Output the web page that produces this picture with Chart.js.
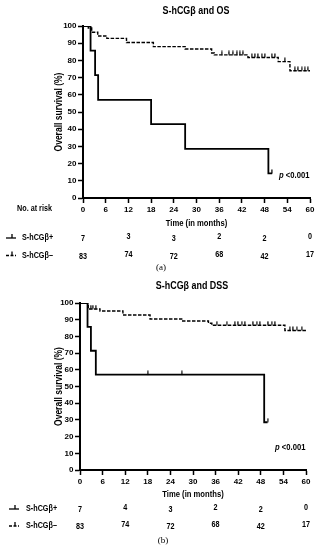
<!DOCTYPE html>
<html>
<head>
<meta charset="utf-8">
<script src="https://cdn.jsdelivr.net/npm/chart.js@4.4.1/dist/chart.umd.min.js"></script>
<style>
  body { margin: 0; background: #fff; width: 320px; height: 550px; overflow: hidden; }
  .panel { position: absolute; left: 0; width: 320px; height: 275px; }
</style>
</head>
<body>
<div class="panel" style="top:0"><canvas id="chartA" width="320" height="275"></canvas></div>
<div class="panel" style="top:275px"><canvas id="chartB" width="320" height="275"></canvas></div>
<script>
const xTickValues = [0, 6, 12, 18, 24, 30, 36, 42, 48, 54, 60];
const yTickValues = [0, 10, 20, 30, 40, 50, 60, 70, 80, 90, 100];
const groupLabels = ["S-hCGβ+", "S-hCGβ–"];
const riskMonths = [0, 12, 24, 36, 48, 60];

// (a) S-hCGβ and OS
const osPosMonths = [0, 2, 3.2, 4, 18, 27, 49, 50];
const osPosSurvival = [100, 85.7, 71.4, 57.1, 42.9, 28.6, 14.3, 14.3];
const osPosCensored = [50];
const osNegMonths = [0, 1.4, 2.3, 3.9, 6.3, 11.5, 18.6, 27, 34, 34.7, 43.6, 51.6, 54.7, 60];
const osNegSurvival = [100, 98.8, 96.4, 94.2, 92.8, 90.4, 88.0, 86.6, 84.3, 83.2, 81.7, 79.3, 74.0, 74.0];
const osNegCensored = [36.7, 38.7, 39.7, 40.8, 41.5, 42.4, 44.6, 45.5, 46.3, 47.2, 48.1, 49.9, 50.8, 53.4, 56, 56.9, 57.8, 58.6, 59.5];
const osPosAtRisk = [7, 3, 3, 2, 2, 0];
const osNegAtRisk = [83, 74, 72, 68, 42, 17];

// (b) S-hCGβ and DSS
const dssPosMonths = [0, 2, 2.9, 4.2, 48.9, 49.8];
const dssPosSurvival = [100, 85.7, 71.4, 57.1, 28.6, 28.6];
const dssPosCensored = [18, 27, 49.8];
const dssNegMonths = [0, 2.2, 5.3, 11.4, 18.6, 27, 34.1, 35, 54.4, 60];
const dssNegSurvival = [100, 96.4, 95.2, 92.8, 90.4, 89.2, 87.9, 86.7, 83.5, 83.5];
const dssNegCensored = [2.9, 3.5, 4.2, 36.3, 38.9, 41.1, 42, 42.9, 43.8, 46, 46.9, 47.8, 50, 50.9, 51.8, 55.7, 56.6, 57.5, 58.9];
const dssPosAtRisk = [7, 4, 3, 2, 2, 0];
const dssNegAtRisk = [83, 74, 72, 68, 42, 17];

const FONT = "'Liberation Sans', Arial, sans-serif";
const NARROW = 0.85; // squeeze to mimic the condensed bold face of the original

function stepValue(months, survival, t) {
  let v = survival[0];
  months.forEach((m, i) => { if (m <= t) v = survival[i]; });
  return v;
}

function curve(months, survival) {
  return months.map((m, i) => ({ x: m, y: survival[i] }));
}

function censorPoints(months, survival, censored) {
  return censored.map((t) => ({ x: t, y: stepValue(months, survival, t) }));
}

// narrow text: draws text squeezed horizontally around its anchor
function text(ctx, str, x, y, font, align, rotate) {
  ctx.save();
  ctx.translate(x, y);
  if (rotate) ctx.rotate(rotate);
  ctx.scale(NARROW, 1);
  ctx.font = font;
  ctx.textAlign = align;
  ctx.fillText(str, 0, 0);
  const w = ctx.measureText(str).width * NARROW;
  ctx.restore();
  return w;
}

// small upward tick used for censored observations
const tickMark = document.createElement("canvas");
tickMark.width = 2;
tickMark.height = 9;
(function () {
  const c = tickMark.getContext("2d");
  c.fillStyle = "#000";
  c.fillRect(0.3, 0.5, 1.2, 4);
})();

const kmText = {
  id: "kmText",
  afterDraw(chart, args, opts) {
    const { ctx, chartArea, scales } = chart;
    ctx.save();
    ctx.fillStyle = "#000";
    ctx.strokeStyle = "#000";
    ctx.textBaseline = "middle";

    text(ctx, opts.title, opts.titleX, opts.titleY, "bold 10.5px " + FONT, "center");
    text(ctx, "Time (in months)", (chartArea.left + chartArea.right) / 2, opts.timeY, "bold 9px " + FONT, "center");
    text(ctx, "Overall survival (%)", 59.5, (chartArea.top + chartArea.bottom) / 2, "bold 10px " + FONT, "center", -Math.PI / 2);

    if (opts.showRiskHeader) {
      text(ctx, "No. at risk", 17, opts.riskHeaderY, "bold 8.5px " + FONT, "left");
    }

    // p value
    const pw = text(ctx, "p ", opts.pX, opts.pY, "italic bold 9px " + FONT, "left");
    text(ctx, "<0.001", opts.pX + pw, opts.pY, "bold 9px " + FONT, "left");

    // at-risk rows
    opts.rows.forEach((row, r) => {
      const y = opts.rowY[r];
      ctx.lineWidth = 1.3;
      ctx.setLineDash(r === 0 ? [] : [3, 1.5]);
      ctx.beginPath();
      ctx.moveTo(opts.symX, y);
      ctx.lineTo(opts.symX + 10, y);
      ctx.stroke();
      ctx.setLineDash([]);
      ctx.beginPath();
      ctx.moveTo(opts.symX + 6, y);
      ctx.lineTo(opts.symX + 6, y - 4);
      ctx.stroke();

      text(ctx, groupLabels[r], opts.labelX, y, "bold 8.5px " + FONT, "left");
      row.forEach((n, i) => {
        text(ctx, String(n), scales.x.getPixelForValue(riskMonths[i]), y + (i % 2 ? -1 : 1), "bold 8.5px " + FONT, "center");
      });
    });

    ctx.font = "9px 'Liberation Serif', 'Times New Roman', serif";
    ctx.textAlign = "center";
    ctx.fillText(opts.panel, opts.panelX, opts.panelY);
    ctx.restore();
  }
};

function makeChart(id, d, layout, labels) {
  return new Chart(document.getElementById(id), {
    type: "line",
    data: {
      datasets: [
        {
          data: curve(d.posMonths, d.posSurvival),
          borderColor: "#000",
          borderWidth: 1.8,
          stepped: true,
          pointRadius: 0,
          fill: false
        },
        {
          data: curve(d.negMonths, d.negSurvival),
          borderColor: "#000",
          borderWidth: 1.4,
          borderDash: [3.5, 1.5],
          stepped: true,
          pointRadius: 0,
          fill: false
        },
        {
          data: censorPoints(d.posMonths, d.posSurvival, d.posCensored),
          showLine: false,
          pointStyle: tickMark,
          pointRadius: 3
        },
        {
          data: censorPoints(d.negMonths, d.negSurvival, d.negCensored),
          showLine: false,
          pointStyle: tickMark,
          pointRadius: 3
        }
      ]
    },
    options: {
      responsive: false,
      animation: false,
      events: [],
      layout: { padding: { top: layout.top, right: layout.right, bottom: layout.bottom, left: 0 } },
      plugins: {
        legend: { display: false },
        tooltip: { enabled: false },
        kmText: labels
      },
      scales: {
        x: {
          type: "linear",
          min: 0,
          max: 60,
          afterBuildTicks: (scale) => { scale.ticks = xTickValues.map((v) => ({ value: v })); },
          afterFit: (scale) => { scale.height = 20; },
          ticks: {
            color: "#000",
            padding: 2,
            maxRotation: 0,
            autoSkip: false,
            font: { family: FONT, size: 8, weight: "bold" }
          },
          grid: { drawOnChartArea: false, drawTicks: true, tickLength: 5, tickColor: "#000", tickWidth: 1.5 },
          border: { color: "#000", width: 2 }
        },
        y: {
          min: 0,
          max: 100,
          afterBuildTicks: (scale) => { scale.ticks = yTickValues.map((v) => ({ value: v })); },
          afterFit: (scale) => { scale.width = layout.left; },
          ticks: {
            color: "#000",
            padding: 1.5,
            autoSkip: false,
            font: { family: FONT, size: 8, weight: "bold" }
          },
          grid: { drawOnChartArea: false, drawTicks: true, tickLength: 5, tickColor: "#000", tickWidth: 1.5 },
          border: { color: "#000", width: 2 }
        }
      }
    },
    plugins: [kmText]
  });
}

makeChart("chartA", {
  posMonths: osPosMonths, posSurvival: osPosSurvival, posCensored: osPosCensored,
  negMonths: osNegMonths, negSurvival: osNegSurvival, negCensored: osNegCensored
}, { left: 83, right: 10, top: 26, bottom: 57 }, {
  title: "S-hCGβ and OS", titleX: 196, titleY: 11,
  timeY: 224, showRiskHeader: true, riskHeaderY: 209,
  pX: 279, pY: 176,
  rows: [osPosAtRisk, osNegAtRisk], rowY: [238, 255.5],
  symX: 6, labelX: 22,
  panel: "(a)", panelX: 161, panelY: 268
});

makeChart("chartB", {
  posMonths: dssPosMonths, posSurvival: dssPosSurvival, posCensored: dssPosCensored,
  negMonths: dssNegMonths, negSurvival: dssNegSurvival, negCensored: dssNegCensored
}, { left: 80, right: 14, top: 28, bottom: 60 }, {
  title: "S-hCGβ and DSS", titleX: 192, titleY: 11,
  timeY: 219.5, showRiskHeader: false, riskHeaderY: 0,
  pX: 275, pY: 173,
  rows: [dssPosAtRisk, dssNegAtRisk], rowY: [234, 251],
  symX: 9, labelX: 26,
  panel: "(b)", panelX: 163, panelY: 266
});
</script>
</body>
</html>
